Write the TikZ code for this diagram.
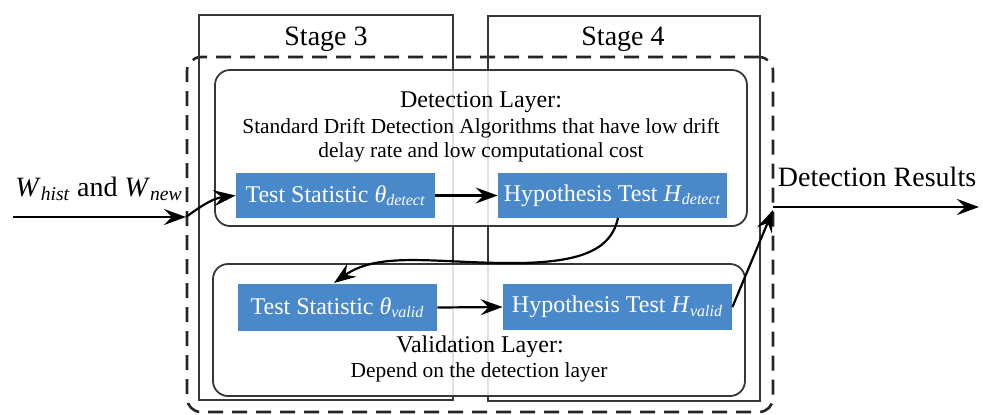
\documentclass[tikz,border=0pt]{standalone}
\usepackage{fontspec}
\setmainfont{Liberation Serif}
\usetikzlibrary{arrows.meta}
\definecolor{boxblue}{RGB}{74,137,201}
\definecolor{framegray}{RGB}{55,55,55}
\newcommand\idx[1]{\textsubscript{\itshape #1}}
\begin{document}
\begin{tikzpicture}[x=0.5pt,y=-0.5pt,
  stagebox/.style={draw=framegray, line width=0.8pt, inner sep=0pt},
  outerbox/.style={draw=black!85, line width=1.3pt, dash pattern=on 7.5pt off 4.5pt,
    rounded corners=7pt, inner sep=0pt},
  layerbox/.style={draw=framegray, line width=0.9pt, rounded corners=7.5pt,
    fill=white, fill opacity=0.85, inner sep=0pt},
  blockbox/.style={fill=boxblue, text=white, inner sep=0pt,
    font=\fontsize{12}{14}\selectfont},
  label/.style={inner sep=0pt, anchor=base},
  bigtext/.style={font=\fontsize{14}{17}\selectfont},
  headtext/.style={font=\fontsize{12}{14}\selectfont},
  smalltext/.style={font=\fontsize{10.7}{13}\selectfont},
  flow/.style={-{Stealth[length=11pt,width=8pt,inset=4pt]}, line width=1.1pt}]
\useasboundingbox (0,0) rectangle (983,414);

% outer dashed frame and the two stage frames
\node[outerbox, minimum width=293pt, minimum height=177.5pt] (frame) at (480,234.5) {};
\node[stagebox, minimum width=127pt, minimum height=192.5pt] (st3) at (326,207.5) {};
\node[stagebox, minimum width=136pt, minimum height=192.5pt] (st4) at (624,208.5) {};
\node[label, bigtext] (st3t) at (326,45) {Stage 3};
\node[label, bigtext] (st4t) at (623,45) {Stage 4};

% detection and validation layers
\node[layerbox, minimum width=266pt, minimum height=78pt] (detl) at (481,148) {};
\node[layerbox, minimum width=266pt, minimum height=66pt] (vall) at (479,330) {};

\node[label, headtext] (dett) at (481,107) {Detection Layer:};
\node[label, smalltext] (detd1) at (481,133) {Standard Drift Detection Algorithms that have low drift};
\node[label, smalltext] (detd2) at (481,157) {delay rate and low computational cost};
\node[label, headtext] (valt) at (480,352) {Validation Layer:};
\node[label, smalltext] (vald) at (479,377) {Depend on the detection layer};

% test blocks
\node[blockbox, minimum width=99.5pt, minimum height=22.5pt] (tdet) at (335.5,195.5)
  {Test Statistic \textit{θ}\idx{detect}};
\node[blockbox, minimum width=114.5pt, minimum height=22.5pt] (hdet) at (612.5,195.5)
  {Hypothesis Test \textit{H}\idx{detect}};
\node[blockbox, minimum width=99.5pt, minimum height=23.5pt] (tval) at (337.5,307.5)
  {Test Statistic \textit{θ}\idx{valid}};
\node[blockbox, minimum width=114.5pt, minimum height=23pt] (hval) at (617.5,307)
  {Hypothesis Test \textit{H}\idx{valid}};

% input and output
\node[label, bigtext] (intxt) at (99,196) {\textit{W}\idx{hist} and \textit{W}\idx{new}};
\node[label, bigtext] (outtxt) at (877,186) {Detection Results};
\coordinate (in) at (13,217);
\coordinate (injoin) at (186,217);
\coordinate (outjoin) at (773,210);
\coordinate (outstart) at (773,207);
\coordinate (out) at (979,207);
\coordinate (hdetb) at (618,218);
\coordinate (tvalt) at (334,283);

% connectors
\draw[flow] (in) -- (injoin);
\draw[flow] (injoin) .. controls (205,203) and (215,198) .. (tdet.west);
\draw[flow] (tdet.east) -- (hdet.west);
\draw[flow] (hdetb) .. controls (612,245) and (590,262) .. (520,263)
  .. controls (440,264) and (380,250) .. (tvalt);
\draw[flow] (tval.east) -- (hval.west);
\draw[flow] (hval.east) -- (outjoin);
\draw[flow] (outstart) -- (out);
\end{tikzpicture}
\end{document}
